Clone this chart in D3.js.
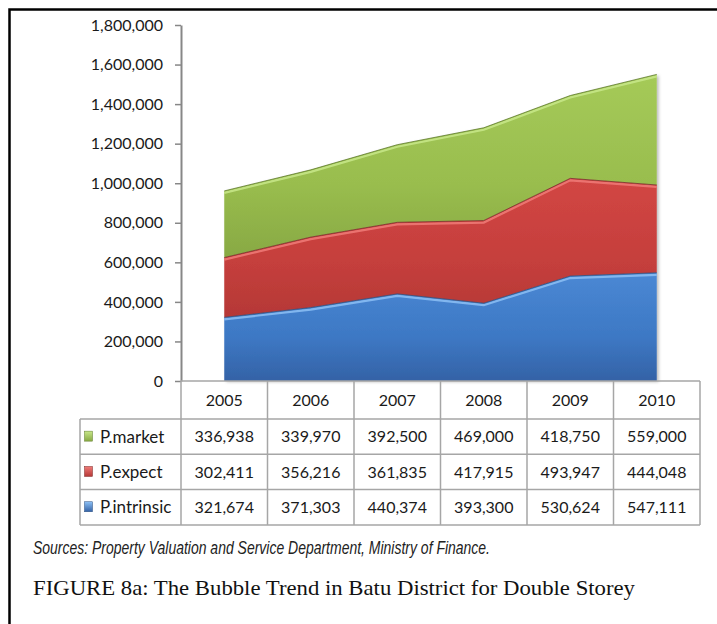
<!DOCTYPE html>
<html>
<head>
<meta charset="utf-8">
<script src="https://cdn.jsdelivr.net/npm/d3@7"></script>
<style>
  html, body { margin: 0; padding: 0; background: #fff; }
  svg { display: block; }
</style>
</head>
<body>
<svg id="chart" width="717" height="624"></svg>
<script>
// ---- data ----
const years = ["2005", "2006", "2007", "2008", "2009", "2010"];
const seriesNames = ["P.intrinsic", "P.expect", "P.market"];
const pIntrinsic = [321674, 371303, 440374, 393300, 530624, 547111];
const pExpect    = [302411, 356216, 361835, 417915, 493947, 444048];
const pMarket    = [336938, 339970, 392500, 469000, 418750, 559000];
const yTicks = [0, 200000, 400000, 600000, 800000, 1000000, 1200000, 1400000, 1600000, 1800000];
const tableOrder = ["P.market", "P.expect", "P.intrinsic"];
const sourceText = "Sources: Property Valuation and Service Department, Ministry of Finance.";
const captionText = "FIGURE 8a: The Bubble Trend in Batu District for Double Storey";

const seriesValues = { "P.intrinsic": pIntrinsic, "P.expect": pExpect, "P.market": pMarket };
const colors = {
  "P.intrinsic": { top: "#4a88d4", mid: "#3d78c4", bot: "#3462a6", hi: "#8cc0f5", dark: "#2a4f80" },
  "P.expect":    { top: "#d24644", mid: "#c53f3c", bot: "#b53836", hi: "#f07b78", dark: "#7a2a28" },
  "P.market":    { top: "#a5ca58", mid: "#99bd4e", bot: "#88a943", hi: "#c8e88a", dark: "#5f7a2c" }
};

const svg = d3.select("#chart");
const font = "Lato, 'Open Sans', sans-serif";

// outer frame
svg.append("rect").attr("x", 9.5).attr("y", 9.5).attr("width", 720).attr("height", 640)
  .attr("fill", "none").attr("stroke", "#000").attr("stroke-width", 2.5);

// scales
const x = d3.scaleBand().domain(years).range([181, 700]).padding(0);
const y = d3.scaleLinear().domain([0, 1800000]).range([381, 25]);
const cx = d => x(d) + x.bandwidth() / 2;

// stacked data
const rows = years.map((yr, i) => {
  const o = { year: yr };
  seriesNames.forEach(s => o[s] = seriesValues[s][i]);
  return o;
});
const stack = d3.stack().keys(seriesNames)(rows);

// gradients
const defs = svg.append("defs");
seriesNames.forEach((s, i) => {
  const g = defs.append("linearGradient").attr("id", "grad" + i)
    .attr("x1", 0).attr("y1", 0).attr("x2", 0).attr("y2", 1);
  g.append("stop").attr("offset", "0%").attr("stop-color", colors[s].top);
  g.append("stop").attr("offset", "60%").attr("stop-color", colors[s].mid);
  g.append("stop").attr("offset", "100%").attr("stop-color", colors[s].bot);
  const lg = defs.append("linearGradient").attr("id", "lgrad" + i)
    .attr("x1", 0).attr("y1", 0).attr("x2", 0).attr("y2", 1);
  lg.append("stop").attr("offset", "0%").attr("stop-color", colors[s].hi);
  lg.append("stop").attr("offset", "100%").attr("stop-color", colors[s].bot);
});
const shadow = defs.append("filter").attr("id", "shadow").attr("x", "-5%").attr("y", "-5%").attr("width", "115%").attr("height", "115%");
shadow.append("feDropShadow").attr("dx", 2).attr("dy", 1).attr("stdDeviation", 1.5).attr("flood-color", "#000").attr("flood-opacity", 0.25);

// areas
const area = d3.area().x(d => cx(d.data.year)).y0(d => y(d[0])).y1(d => y(d[1]));
const topLine = d3.line().x(d => cx(d.data.year)).y(d => y(d[1]));
const plot = svg.append("g").attr("filter", "url(#shadow)");
stack.forEach((layer, i) => {
  plot.append("path").datum(layer).attr("d", area).attr("fill", `url(#grad${i})`);
});
stack.forEach((layer, i) => {
  const s = seriesNames[i];
  // highlight along top edge
  svg.append("path").datum(layer).attr("d", topLine)
    .attr("transform", "translate(0,2)")
    .attr("fill", "none").attr("stroke", colors[s].hi).attr("stroke-width", 2.2).attr("opacity", 0.85);
  // dark boundary
  svg.append("path").datum(layer).attr("d", topLine)
    .attr("fill", "none").attr("stroke", colors[s].dark).attr("stroke-width", 1).attr("opacity", 0.8);
});

// y axis
const yAxis = d3.axisLeft(y).tickValues(yTicks).tickSize(6).tickSizeOuter(0).tickPadding(12)
  .tickFormat(d3.format(","));
const ga = svg.append("g").attr("transform", "translate(181,0)").call(yAxis);
ga.select(".domain").attr("stroke", "#878787").attr("stroke-width", 2);
ga.selectAll(".tick line").attr("stroke", "#878787").attr("stroke-width", 1.5);
ga.selectAll(".tick text").attr("font-family", font).attr("font-size", 16).attr("fill", "#1a1a1a");

// data table
const tableTop = 381, headerH = 38, rowH = 35.3;
const legendLeft = 80;
const tableBottom = tableTop + headerH + rowH * tableOrder.length;
const tbl = svg.append("g").attr("stroke", "#a6a6a6").attr("stroke-width", 1.5).attr("fill", "none");
tbl.append("line").attr("x1", 181).attr("x2", 700).attr("y1", tableTop).attr("y2", tableTop);
tableOrder.forEach((s, r) => {
  const yy = tableTop + headerH + r * rowH;
  tbl.append("line").attr("x1", legendLeft).attr("x2", 700).attr("y1", yy).attr("y2", yy);
});
tbl.append("line").attr("x1", legendLeft).attr("x2", 700).attr("y1", tableBottom).attr("y2", tableBottom);
years.forEach(yr => {
  tbl.append("line").attr("x1", x(yr)).attr("x2", x(yr)).attr("y1", tableTop).attr("y2", tableBottom);
});
tbl.append("line").attr("x1", 700).attr("x2", 700).attr("y1", tableTop).attr("y2", tableBottom);
tbl.append("line").attr("x1", legendLeft).attr("x2", legendLeft).attr("y1", tableTop + headerH).attr("y2", tableBottom);

// header
svg.append("g").selectAll("text").data(years).join("text")
  .attr("x", d => cx(d)).attr("y", tableTop + headerH / 2)
  .attr("dy", "0.36em").attr("text-anchor", "middle")
  .attr("font-family", font).attr("font-size", 16).attr("fill", "#1a1a1a")
  .text(d => d);

// rows
const fmt = d3.format(",");
tableOrder.forEach((s, r) => {
  const yc = tableTop + headerH + r * rowH + rowH / 2;
  const idx = seriesNames.indexOf(s);
  svg.append("rect").attr("x", 84.5).attr("y", yc - 5.5).attr("width", 8).attr("height", 10)
    .attr("fill", `url(#lgrad${idx})`).attr("stroke", colors[s].dark).attr("stroke-width", 0.5);
  svg.append("text").attr("x", 100).attr("y", yc).attr("dy", "0.36em")
    .attr("font-family", font).attr("font-size", 17).attr("fill", "#1a1a1a").text(s);
  svg.append("g").selectAll("text").data(seriesValues[s]).join("text")
    .attr("x", (d, i) => cx(years[i])).attr("y", yc).attr("dy", "0.36em")
    .attr("text-anchor", "middle")
    .attr("font-family", font).attr("font-size", 16).attr("fill", "#1a1a1a")
    .text(d => fmt(d));
});

// source note
svg.append("text").attr("x", 33).attr("y", 554)
  .attr("font-family", "'Liberation Sans Narrow', 'Liberation Sans', Arial, sans-serif")
  .attr("font-style", "italic").attr("font-size", 18).attr("fill", "#222")
  .attr("textLength", 457).attr("lengthAdjust", "spacingAndGlyphs")
  .text(sourceText);

// caption
svg.append("text").attr("x", 33).attr("y", 595)
  .attr("font-family", "'Liberation Serif', 'Times New Roman', serif")
  .attr("font-size", 21).attr("fill", "#111")
  .attr("textLength", 602).attr("lengthAdjust", "spacingAndGlyphs")
  .text(captionText);
</script>
</body>
</html>
